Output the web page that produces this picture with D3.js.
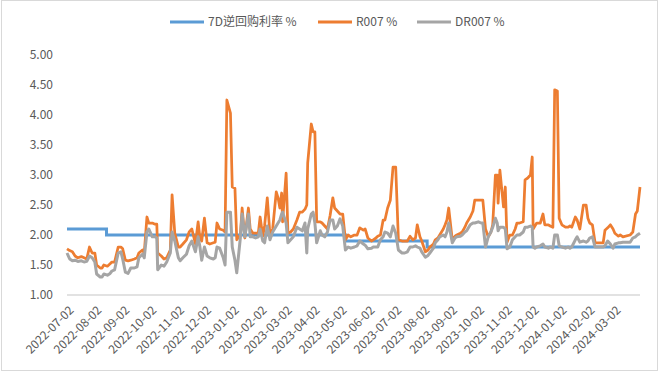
<!DOCTYPE html>
<html>
<head>
<meta charset="utf-8">
<script src="https://cdn.jsdelivr.net/npm/d3@7/dist/d3.min.js"></script>
<style>
  html, body { margin: 0; padding: 0; background: #fff; }
  svg { display: block; font-family: "Noto Sans CJK SC", "Noto Sans", sans-serif; }
</style>
</head>
<body>
<svg id="chart" width="669" height="373"></svg>
<script>
// ---------------- DATA ----------------
const seriesNames = ["7D逆回购利率 %", "R007 %", "DR007 %"];

const tickLabels = ["2022-07-02","2022-08-02","2022-09-02","2022-10-02","2022-11-02","2022-12-02",
  "2023-01-02","2023-02-02","2023-03-02","2023-04-02","2023-05-02","2023-06-02","2023-07-02",
  "2023-08-02","2023-09-02","2023-10-02","2023-11-02","2023-12-02","2024-01-02","2024-02-02","2024-03-02"];

const yTicks = [1.00, 1.50, 2.00, 2.50, 3.00, 3.50, 4.00, 4.50, 5.00];

const policyDates = ["2022-07-02","2022-08-15","2023-05-08","2023-08-07","2024-03-31"];
const policyRates = [2.10, 2.00, 1.90, 1.80, 1.80];

const dates = [
"2022-07-02","2022-07-05","2022-07-08","2022-07-11","2022-07-14","2022-07-18","2022-07-21","2022-07-24","2022-07-27","2022-07-30",
"2022-08-02","2022-08-04","2022-08-08","2022-08-10","2022-08-12","2022-08-16","2022-08-19","2022-08-21","2022-08-24","2022-08-28","2022-08-31",
"2022-09-02","2022-09-05","2022-09-08","2022-09-11","2022-09-15","2022-09-18","2022-09-20","2022-09-24","2022-09-26","2022-09-29",
"2022-10-01","2022-10-05","2022-10-08","2022-10-10","2022-10-11","2022-10-15","2022-10-18","2022-10-21","2022-10-25","2022-10-27","2022-10-30",
"2022-11-03","2022-11-05","2022-11-08","2022-11-12","2022-11-15","2022-11-18","2022-11-22","2022-11-25","2022-11-27","2022-11-29",
"2022-12-02","2022-12-05","2022-12-08","2022-12-12","2022-12-14","2022-12-16","2022-12-19","2022-12-23","2022-12-25","2022-12-27","2022-12-31",
"2023-01-02","2023-01-05","2023-01-07","2023-01-11","2023-01-13","2023-01-16","2023-01-20","2023-01-22","2023-01-25","2023-01-28","2023-01-31",
"2023-02-02","2023-02-05","2023-02-07","2023-02-10","2023-02-13","2023-02-16","2023-02-20","2023-02-22","2023-02-24","2023-02-26","2023-02-27",
"2023-03-03","2023-03-05","2023-03-08","2023-03-11","2023-03-15","2023-03-18","2023-03-21","2023-03-24","2023-03-26","2023-03-27","2023-03-31",
"2023-04-02","2023-04-04","2023-04-06","2023-04-10","2023-04-12","2023-04-15","2023-04-18","2023-04-21","2023-04-24","2023-04-26","2023-04-29",
"2023-05-02","2023-05-05","2023-05-08","2023-05-11","2023-05-14","2023-05-18","2023-05-21","2023-05-24","2023-05-28","2023-05-30",
"2023-06-02","2023-06-06","2023-06-08","2023-06-11","2023-06-13","2023-06-16","2023-06-19","2023-06-21","2023-06-24","2023-06-27","2023-06-30",
"2023-07-03","2023-07-06","2023-07-10","2023-07-13","2023-07-16","2023-07-19","2023-07-22","2023-07-25","2023-07-27","2023-07-30",
"2023-08-01","2023-08-05","2023-08-08","2023-08-10","2023-08-14","2023-08-16","2023-08-19","2023-08-21","2023-08-25","2023-08-27","2023-08-29","2023-08-31",
"2023-09-04","2023-09-07","2023-09-09","2023-09-13","2023-09-15","2023-09-18","2023-09-20","2023-09-24","2023-09-27","2023-09-29",
"2023-10-03","2023-10-06","2023-10-08","2023-10-11","2023-10-14","2023-10-17","2023-10-19","2023-10-22","2023-10-24","2023-10-25","2023-10-27","2023-10-31",
"2023-11-02","2023-11-04","2023-11-07","2023-11-10","2023-11-13","2023-11-15","2023-11-18","2023-11-22","2023-11-24","2023-11-27","2023-11-30",
"2023-12-02","2023-12-03","2023-12-05","2023-12-07","2023-12-11","2023-12-14","2023-12-16","2023-12-20","2023-12-22","2023-12-25","2023-12-27","2023-12-30",
"2024-01-01","2024-01-04","2024-01-08","2024-01-11","2024-01-13","2024-01-15","2024-01-19","2024-01-21","2024-01-24","2024-01-28","2024-01-31",
"2024-02-02","2024-02-04","2024-02-07","2024-02-10","2024-02-13","2024-02-16","2024-02-19","2024-02-21","2024-02-24","2024-02-27",
"2024-03-01","2024-03-03","2024-03-07","2024-03-09","2024-03-12","2024-03-15","2024-03-20","2024-03-23","2024-03-26","2024-03-28","2024-03-31"
];

const r007 = [
1.77,1.74,1.72,1.65,1.62,1.64,1.62,1.60,1.80,1.70,
1.70,1.50,1.45,1.45,1.50,1.48,1.52,1.55,1.55,1.80,1.80,
1.77,1.58,1.57,1.58,1.60,1.62,1.70,1.75,1.70,2.30,
2.20,2.20,2.18,2.18,1.70,1.65,1.60,1.62,1.75,2.67,2.03,
1.80,1.80,1.85,1.92,2.05,2.10,1.85,2.22,1.95,1.90,
2.28,1.87,1.85,1.87,1.88,2.20,2.10,2.08,2.05,4.25,4.03,
2.80,2.78,1.92,2.00,2.45,1.95,2.45,2.10,2.03,2.03,2.03,
2.30,1.98,2.15,2.62,2.00,2.10,2.72,2.62,2.45,2.70,2.22,
3.03,2.03,2.05,2.10,2.25,2.38,2.38,2.43,2.50,3.20,3.85,
3.72,3.72,2.22,2.22,2.20,2.15,2.10,2.33,2.62,2.45,2.40,
2.35,2.35,1.92,2.00,1.97,2.00,2.00,2.12,2.08,2.10,
1.95,1.90,1.92,1.95,1.98,2.00,2.25,2.25,2.45,2.58,3.13,
3.13,1.92,1.90,1.90,1.90,1.98,1.92,1.95,2.17,1.97,
1.90,1.72,1.75,1.80,1.85,1.92,1.95,2.00,2.10,2.17,2.25,2.45,
1.92,1.98,2.00,2.03,2.05,2.13,2.20,2.30,2.40,2.58,
2.58,2.58,2.58,2.10,1.97,2.05,2.17,3.00,3.00,2.53,3.08,2.47,
2.80,1.88,2.00,2.00,2.10,2.20,2.20,2.22,2.92,2.95,3.00,
3.30,2.10,2.15,2.20,2.20,2.35,2.17,2.17,2.15,2.13,4.42,4.40,
2.28,2.17,2.13,2.13,2.15,2.13,2.30,2.25,2.10,2.50,2.50,
2.28,2.20,2.17,1.87,1.87,1.87,1.87,2.08,2.12,2.17,
2.10,2.03,1.98,2.00,1.97,1.98,2.00,2.05,2.35,2.40,2.80
];

const dr007 = [
1.70,1.60,1.57,1.58,1.56,1.57,1.55,1.56,1.65,1.62,
1.55,1.35,1.30,1.30,1.35,1.33,1.36,1.40,1.42,1.70,1.72,
1.60,1.38,1.36,1.45,1.45,1.47,1.62,1.68,1.62,2.05,
2.10,1.97,1.97,1.95,1.42,1.50,1.48,1.55,1.70,2.05,1.90,
1.62,1.57,1.62,1.68,1.82,1.90,1.72,1.97,1.80,1.58,
1.80,1.65,1.62,1.60,1.62,1.80,1.78,1.62,1.50,2.38,2.38,
1.80,1.58,1.37,1.95,2.35,1.97,2.35,1.97,1.97,1.95,1.97,
2.10,1.90,1.87,2.15,1.92,2.05,2.15,2.20,2.25,2.35,2.38,
2.20,1.87,1.92,1.97,2.13,2.10,2.07,2.20,1.70,2.10,2.35,
2.38,2.20,1.87,2.07,2.00,1.97,2.05,2.25,2.25,2.10,2.15,
2.27,2.15,1.75,1.80,1.78,1.80,1.82,1.90,1.85,1.83,
1.77,1.78,1.80,1.80,1.80,1.92,1.97,2.05,2.03,1.97,2.15,
2.03,1.75,1.70,1.70,1.72,1.80,1.80,1.82,1.80,1.78,
1.72,1.63,1.66,1.70,1.78,1.87,1.92,1.97,2.00,1.97,2.05,2.20,
1.87,1.95,1.97,1.98,2.00,2.05,2.07,2.17,2.20,2.20,
2.22,2.20,2.20,1.80,1.97,2.05,2.13,2.28,2.20,2.07,2.13,2.13,
2.10,1.77,1.80,1.92,1.97,2.00,2.00,2.05,2.13,2.13,2.15,
2.13,1.80,1.78,1.80,1.82,1.85,1.80,1.78,1.80,1.78,2.00,2.00,
1.82,1.80,1.78,1.80,1.78,1.80,1.92,1.97,1.88,1.90,1.88,
1.90,1.95,1.97,1.80,1.80,1.80,1.80,1.82,1.90,1.85,
1.78,1.85,1.87,1.87,1.88,1.88,1.88,1.95,1.97,2.00,2.03
];

const colors = ["#5B9BD5", "#ED7D31", "#A5A5A5"];

// ---------------- CHART ----------------
const parse = d3.timeParse("%Y-%m-%d");
const svg = d3.select("#chart");

// outer border
svg.append("rect").attr("x", 1.5).attr("y", 0.5).attr("width", 656).attr("height", 370)
  .attr("fill", "#fff").attr("stroke", "#D9D9D9").attr("stroke-width", 1);

const x = d3.scaleTime()
  .domain([parse("2022-07-02"), parse("2024-03-31")])
  .range([67, 640]);
const y = d3.scaleLinear().domain([1, 5]).range([295, 55]);

// y labels
const yAxis = d3.axisLeft(y).tickValues(yTicks).tickFormat(d3.format(".2f")).tickSize(0).tickPadding(0);
const gy = svg.append("g").attr("transform", "translate(53,0)").call(yAxis);
gy.select(".domain").remove();
gy.selectAll("text").attr("font-size", 12).attr("fill", "#595959")
  .attr("font-family", "'Noto Sans CJK SC', 'Noto Sans', sans-serif");

// x axis line
svg.append("line").attr("x1", 67).attr("x2", 640).attr("y1", y(1)).attr("y2", y(1))
  .attr("stroke", "#D9D9D9").attr("stroke-width", 1.5);

// x labels
const xAxis = d3.axisBottom(x).tickValues(tickLabels.map(parse)).tickFormat(d3.timeFormat("%Y-%m-%d")).tickSize(0);
const gx = svg.append("g").attr("transform", `translate(0,${y(1)})`).call(xAxis);
gx.select(".domain").remove();
gx.selectAll("text")
  .attr("font-size", 12).attr("fill", "#595959")
  .attr("font-family", "'Noto Sans CJK SC', 'Noto Sans', sans-serif")
  .attr("text-anchor", "end")
  .attr("dy", "0.35em")
  .attr("transform", "translate(4,13) rotate(-45)")
  .attr("x", 0).attr("y", 0);

// lines
const policy = policyDates.map((d, i) => ({ date: parse(d), v: policyRates[i] }));
const n = Math.min(dates.length, r007.length, dr007.length);
const rData = d3.range(n).map(i => ({ date: parse(dates[i]), v: r007[i] }));
const drData = d3.range(n).map(i => ({ date: parse(dates[i]), v: dr007[i] }));

const line = d3.line().x(d => x(d.date)).y(d => y(d.v));
const stepLine = d3.line().x(d => x(d.date)).y(d => y(d.v)).curve(d3.curveStepAfter);

svg.append("path").datum(policy).attr("d", stepLine)
  .attr("fill", "none").attr("stroke", colors[0]).attr("stroke-width", 3);
svg.append("path").datum(rData).attr("d", line)
  .attr("fill", "none").attr("stroke", colors[1]).attr("stroke-width", 2.75).attr("stroke-linejoin", "round");
svg.append("path").datum(drData).attr("d", line)
  .attr("fill", "none").attr("stroke", colors[2]).attr("stroke-width", 3).attr("stroke-linejoin", "round");

// legend
const legendItems = [
  { name: seriesNames[0], color: colors[0], x: 170 },
  { name: seriesNames[1], color: colors[1], x: 318 },
  { name: seriesNames[2], color: colors[2], x: 417 }
];
const lg = svg.append("g");
legendItems.forEach(it => {
  lg.append("line").attr("x1", it.x).attr("x2", it.x + 34).attr("y1", 22).attr("y2", 22)
    .attr("stroke", it.color).attr("stroke-width", 3);
  lg.append("text").attr("x", it.x + 38).attr("y", 22).attr("dy", "0.35em")
    .attr("font-size", 12).attr("fill", "#595959").text(it.name);
});
</script>
</body>
</html>
